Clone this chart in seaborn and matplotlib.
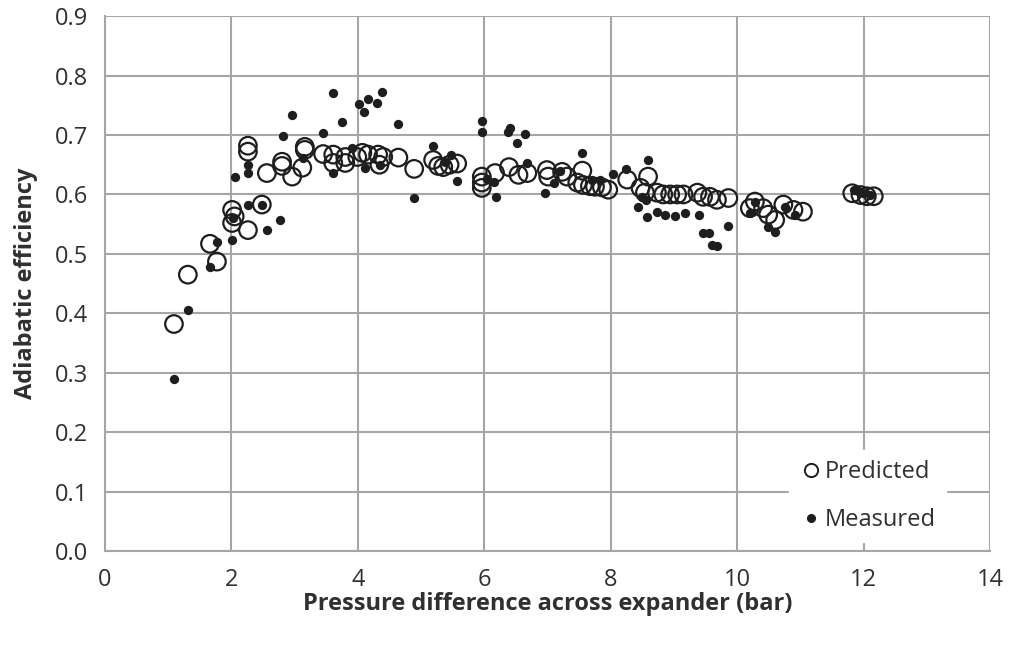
import matplotlib
matplotlib.use("Agg")
import matplotlib.pyplot as plt
import seaborn as sns
import pandas as pd
from matplotlib.lines import Line2D

pred_x = [1.09, 1.31, 1.66, 1.77, 2.01, 2.05, 2.01, 2.26, 2.48, 2.26, 2.26, 2.56, 2.80, 2.80,
          2.96, 3.16, 3.16, 3.12, 3.45, 3.61, 3.61, 3.80, 3.80, 3.99, 4.07, 4.16, 4.32, 4.34,
          4.40, 4.64, 4.89, 5.19, 5.27, 5.35, 5.45, 5.57, 5.96, 5.96, 5.96, 6.17, 6.39, 6.54,
          6.68, 6.99, 7.01, 7.23, 7.31, 7.55, 7.47, 7.56, 7.67, 7.75, 7.86, 7.96, 8.26, 8.59,
          8.47, 8.54, 8.73, 8.83, 8.94, 9.05, 9.15, 9.37, 9.46, 9.57, 9.68, 9.86, 10.20, 10.28,
          10.41, 10.49, 10.60, 10.73, 10.89, 11.04, 11.82, 11.95, 12.05, 12.16]
pred_y = [0.382, 0.465, 0.517, 0.487, 0.574, 0.563, 0.552, 0.540, 0.583, 0.682, 0.672, 0.636,
          0.655, 0.648, 0.630, 0.680, 0.675, 0.645, 0.668, 0.667, 0.653, 0.663, 0.653, 0.663,
          0.670, 0.667, 0.667, 0.650, 0.663, 0.662, 0.643, 0.658, 0.648, 0.646, 0.650, 0.652,
          0.630, 0.620, 0.611, 0.636, 0.646, 0.633, 0.636, 0.641, 0.630, 0.638, 0.630, 0.640,
          0.620, 0.616, 0.614, 0.613, 0.612, 0.608, 0.625, 0.630, 0.611, 0.603, 0.603, 0.600,
          0.600, 0.600, 0.600, 0.603, 0.596, 0.596, 0.591, 0.594, 0.577, 0.588, 0.577, 0.566,
          0.557, 0.583, 0.574, 0.571, 0.602, 0.599, 0.597, 0.597]

meas_x = [1.09, 1.31, 1.77, 1.66, 2.01, 2.03, 2.26, 2.56, 2.77, 2.48, 2.06, 2.26, 2.26, 2.82,
          2.96, 3.13, 3.61, 3.75, 3.45, 4.02, 4.16, 4.38, 4.30, 4.10, 4.64, 5.19, 4.89, 3.61,
          4.11, 3.91, 4.35, 5.47, 5.57, 5.38, 5.96, 5.96, 6.41, 6.38, 6.65, 6.52, 6.19, 6.96,
          6.68, 6.04, 6.16, 7.20, 7.55, 8.59, 8.24, 8.04, 7.83, 7.70, 7.10, 8.43, 8.58, 8.73,
          8.86, 9.02, 9.18, 9.40, 8.50, 8.55, 9.46, 9.56, 9.60, 9.68, 9.86, 10.20, 10.28, 10.49,
          10.60, 10.76, 10.92, 11.84, 11.91, 11.99, 12.10]
meas_y = [0.289, 0.405, 0.520, 0.478, 0.523, 0.561, 0.583, 0.540, 0.557, 0.582, 0.630, 0.650,
          0.636, 0.699, 0.734, 0.662, 0.771, 0.722, 0.704, 0.752, 0.760, 0.772, 0.754, 0.739,
          0.719, 0.682, 0.594, 0.636, 0.645, 0.678, 0.650, 0.667, 0.623, 0.655, 0.724, 0.705,
          0.712, 0.705, 0.702, 0.687, 0.596, 0.603, 0.653, 0.626, 0.621, 0.640, 0.670, 0.658,
          0.643, 0.635, 0.625, 0.625, 0.620, 0.579, 0.562, 0.571, 0.566, 0.564, 0.569, 0.566,
          0.595, 0.590, 0.535, 0.535, 0.515, 0.513, 0.547, 0.569, 0.588, 0.545, 0.537, 0.579,
          0.566, 0.608, 0.605, 0.602, 0.599]

x_ticks = [0, 2, 4, 6, 8, 10, 12, 14]
y_ticks = [0.0, 0.1, 0.2, 0.3, 0.4, 0.5, 0.6, 0.7, 0.8, 0.9]

sns.set_style("white")
plt.rcParams['font.family'] = ['Open Sans', 'DejaVu Sans']

fig = plt.figure(figsize=(10.11, 6.46), dpi=100)
ax = fig.add_axes([0.1039, 0.147, 0.8754, 0.828])

grid_c = "#a6a6a6"
ink = "#1e1e1e"
text_c = "#303030"

pred_df = pd.DataFrame({"x": pred_x, "y": pred_y})
meas_df = pd.DataFrame({"x": meas_x, "y": meas_y})

sns.scatterplot(data=pred_df, x="x", y="y", ax=ax, s=160, facecolor="none",
                edgecolor=ink, linewidth=1.6, zorder=3)
sns.scatterplot(data=meas_df, x="x", y="y", ax=ax, s=45, color=ink,
                edgecolor=ink, linewidth=0, zorder=4)

ax.set_xlim(0, 14)
ax.set_ylim(0, 0.9)
ax.set_xticks(x_ticks)
ax.set_yticks(y_ticks)
ax.set_xticklabels([str(t) for t in x_ticks])
ax.set_yticklabels([f"{t:.1f}" for t in y_ticks])
ax.grid(True, color=grid_c, linewidth=1.5)
ax.set_axisbelow(True)
for side in ["top", "right"]:
    ax.spines[side].set_visible(False)
for side in ["left", "bottom"]:
    ax.spines[side].set_color(grid_c)
    ax.spines[side].set_linewidth(1.5)
ax.tick_params(axis="both", which="both", length=7, width=1.3, color=grid_c,
               labelsize=17, labelcolor=text_c, direction="out", pad=5)

ax.set_xlabel("Pressure difference across expander (bar)", fontsize=17,
              fontweight="bold", color=text_c, labelpad=0)
ax.set_ylabel("Adiabatic efficiency", fontsize=17, fontweight="bold",
              color=text_c, labelpad=12)

handles = [
    Line2D([0], [0], marker="o", linestyle="none", markerfacecolor="none",
           markeredgecolor=ink, markeredgewidth=1.4, markersize=9.5),
    Line2D([0], [0], marker="o", linestyle="none", markerfacecolor=ink,
           markeredgecolor=ink, markersize=5.5),
]
leg = ax.legend(handles, ["Predicted", "Measured"], loc="lower right",
                bbox_to_anchor=(0.964, -0.006), frameon=True, fontsize=17,
                handletextpad=0.15, labelspacing=1.0, borderpad=0.45,
                handlelength=0.9, facecolor="white", edgecolor="white",
                framealpha=1.0, fancybox=False)
for t in leg.get_texts():
    t.set_color(text_c)
leg.set_zorder(10)

fig.savefig("out.png", dpi=100)
